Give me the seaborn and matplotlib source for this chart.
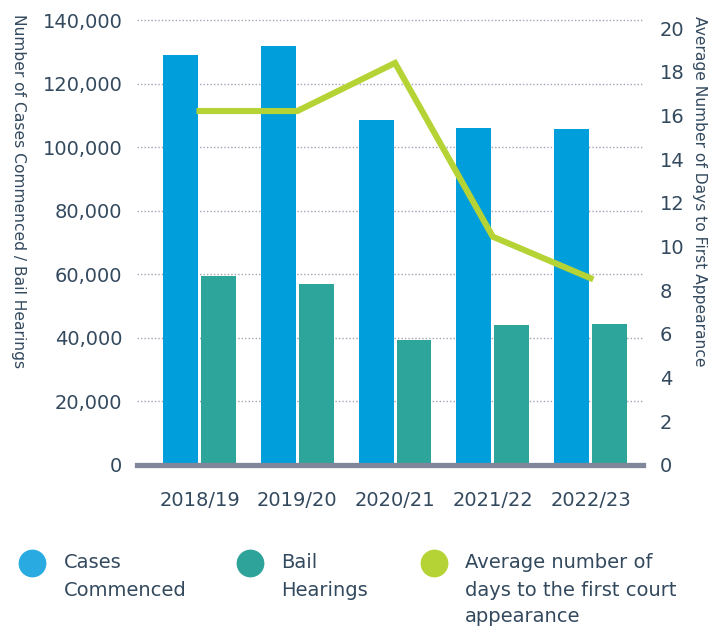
import matplotlib
matplotlib.use("Agg")
import matplotlib.pyplot as plt
import seaborn as sns
import pandas as pd
import numpy as np

# ---- data ----
years = ["2018/19", "2019/20", "2020/21", "2021/22", "2022/23"]
cases_commenced = [129000, 131800, 108600, 106100, 105800]
bail_hearings = [59500, 57000, 39400, 44000, 44300]
avg_days = [16.2, 16.2, 18.4, 10.45, 8.55]
left_ticks = [0, 20000, 40000, 60000, 80000, 100000, 120000, 140000]
right_ticks = [0, 2, 4, 6, 8, 10, 12, 14, 16, 18, 20]
series_names = ["Cases Commenced", "Bail Hearings"]
legend_labels = ["Cases\nCommenced", "Bail\nHearings",
                 "Average number of\ndays to the first court\nappearance"]

# ---- style ----
c_cases = "#009EDB"
c_bail = "#2EA59B"
c_line = "#B5D334"
c_text = "#33495E"
c_grid = "#A3A3B3"
c_zero = "#80879A"
leg_colors = ["#29ABE2", "#2EA39A", "#B5D334"]

plt.rcParams["font.family"] = ["DejaVu Sans"]

W, H = 725, 628
fig = plt.figure(figsize=(W / 100, H / 100), dpi=100)
ax = fig.add_axes([137 / W, 1 - 465 / H, (643 - 137) / W, (465 - 20) / H])

df = pd.DataFrame({
    "year": years * 2,
    "series": [series_names[0]] * len(years) + [series_names[1]] * len(years),
    "value": cases_commenced + bail_hearings,
})
sns.barplot(data=df, x="year", y="value", hue="series",
            palette=[c_cases, c_bail], saturation=1, width=0.777, gap=0.08,
            legend=False, ax=ax, zorder=2)

ax.set_ylim(0, 140000)
ax.set_yticks(left_ticks)
ax.set_yticklabels([f"{v:,}" for v in left_ticks])
ax.set_axisbelow(True)
ax.yaxis.grid(True, linestyle=(0, (1, 1.5)), color=c_grid, linewidth=1.0)
for gl in ax.get_ygridlines():
    gl.set_clip_on(False)
ax.axhline(0, color=c_zero, linewidth=3.8, zorder=3, clip_on=False)
for s in ax.spines.values():
    s.set_visible(False)
ax.tick_params(axis="y", length=0, pad=10.5, labelsize=14, labelcolor=c_text)
ax.tick_params(axis="x", length=0, pad=19, labelsize=14, labelcolor=c_text)
ax.set_xlabel("")
ax.set_ylabel("")

ax2 = ax.twinx()
sns.lineplot(x=np.arange(len(years)), y=avg_days, ax=ax2, color=c_line,
             linewidth=4.4, solid_joinstyle="miter", zorder=5)
ax2.set_ylim(0, 20 * 445 / 437)
ax2.set_yticks(right_ticks)
for s in ax2.spines.values():
    s.set_visible(False)
ax2.tick_params(axis="y", length=0, pad=12, labelsize=14, labelcolor=c_text)
ax2.set_ylabel("")
ax.set_xlim(-0.64, 4.537)

fig.text(18 / W, 1 - 14 / H, "Number of Cases Commenced / Bail Hearings",
         rotation=270, va="top", ha="center", fontsize=11.2, color=c_text)
fig.text(700 / W, 1 - 16 / H, "Average Number of Days to First Appearance",
         rotation=270, va="top", ha="center", fontsize=11.2, color=c_text)

# ---- legend (manual) ----
lax = fig.add_axes([0, 0, 1, 1], facecolor="none")
lax.set_xlim(0, W)
lax.set_ylim(H, 0)
lax.axis("off")
circ_x = [32, 250, 434]
text_x = [64, 281, 465]
for cx, tx, col, lab in zip(circ_x, text_x, leg_colors, legend_labels):
    lax.plot([cx], [563], marker="o", markersize=20, color=col,
             markeredgewidth=0, linestyle="none")
    for i, line in enumerate(lab.split("\n")):
        lax.text(tx, 563 + i * 27, line, va="center", ha="left",
                 fontsize=14, color=c_text)

fig.savefig("out.png", dpi=100)
